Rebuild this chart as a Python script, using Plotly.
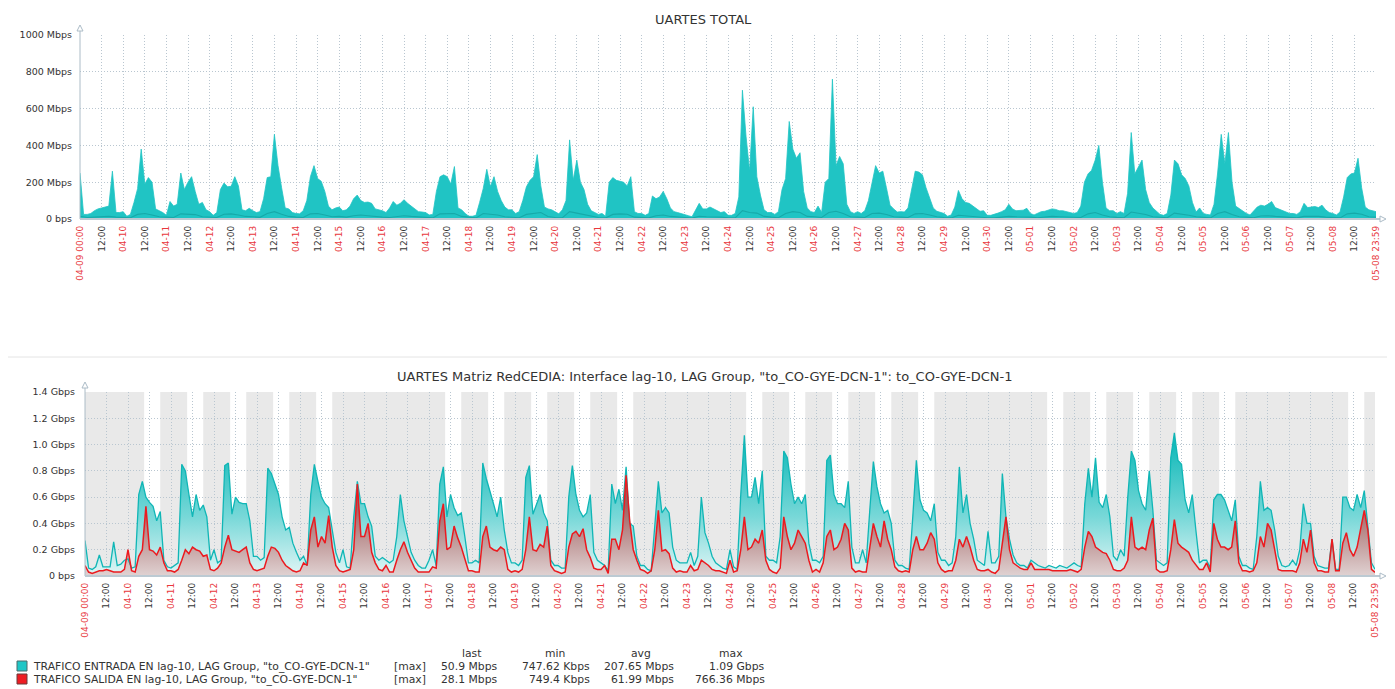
import pandas as pd
import plotly.graph_objects as go

START = "2023-04-09 00:00"
END = "2023-05-08 23:59"

# ---------------- data (2-hour samples, one line per day) ----------------
# UARTES TOTAL (Mbps)
total_mbps = [
    250, 25, 25, 30, 45, 55, 60, 65, 70, 260, 35, 35,
    40, 15, 25, 90, 165, 380, 190, 225, 200, 55, 45, 35,
    20, 95, 70, 80, 250, 160, 200, 230, 150, 80, 90, 50,
    40, 20, 35, 160, 195, 175, 178, 230, 180, 50, 45, 58,
    45, 35, 40, 110, 225, 230, 460, 290, 170, 60, 55, 35,
    30, 28, 45, 100, 230, 290, 220, 205, 150, 70, 50, 60,
    65, 45, 50, 70, 110, 130, 100, 90, 92, 85, 55, 50,
    45, 35, 60, 95, 75, 85, 105, 85, 70, 50, 40, 38,
    35, 22, 25, 150, 230, 240, 230, 190, 285, 60, 50, 30,
    15, 15, 20, 90, 165, 270, 175, 230, 150, 100, 65, 50,
    50, 30, 40, 100, 175, 210, 230, 350, 180, 65, 55, 50,
    40, 28, 50, 100, 430, 210, 320, 200, 160, 80, 45, 35,
    25, 30, 15, 200, 225, 210, 205, 200, 180, 230, 40, 30,
    30, 20, 30, 125, 110, 120, 150, 110, 60, 40, 35, 28,
    25, 18, 12, 45, 85, 55, 55, 65, 55, 45, 35, 40,
    20, 20, 30, 120, 700, 450, 260, 610, 230, 130, 50, 35,
    35, 25, 40, 160, 220, 530, 380, 330, 360, 150, 60, 40,
    35, 70, 35, 200, 220, 760, 290, 340, 300, 80, 40, 30,
    40, 30, 45, 100, 200, 290, 250, 260, 170, 75, 55, 38,
    40, 38, 60, 170, 260, 255, 240, 170, 120, 60, 42, 35,
    30, 15, 22, 65, 155, 110, 90, 85, 72, 55, 42, 45,
    20, 20, 25, 32, 40, 50, 80, 55, 45, 45, 48, 58,
    30, 22, 32, 40, 42, 48, 55, 52, 45, 45, 40, 35,
    30, 35, 70, 200, 245, 265, 320, 400, 200, 60, 45, 45,
    30, 40, 30, 140, 470, 245, 280, 320, 160, 90, 60, 40,
    25, 20, 30, 130, 320, 300, 240, 220, 180, 90, 38, 60,
    30, 25, 22, 80, 250, 460, 300, 470, 200, 70, 55, 40,
    30, 22, 45, 65, 75, 70, 80, 95, 62, 55, 48, 38,
    30, 30, 25, 40, 85, 62, 65, 68, 62, 75, 50, 35,
    30, 22, 38, 120, 225, 245, 250, 330, 170, 65, 50, 45,
    40,
]

# UARTES TOTAL, lower (darker) series, 4-hour samples (Mbps)
total_low_mbps = [
    15, 8, 10, 12, 14, 10,
    9, 7, 25, 30, 22, 12,
    10, 8, 28, 25, 24, 12,
    10, 8, 26, 28, 22, 14,
    12, 9, 30, 40, 26, 14,
    10, 8, 28, 30, 22, 12,
    14, 10, 18, 22, 18, 12,
    10, 8, 15, 18, 14, 10,
    8, 6, 28, 30, 30, 14,
    8, 6, 30, 28, 22, 12,
    10, 7, 25, 30, 35, 14,
    8, 7, 40, 32, 24, 12,
    8, 6, 25, 28, 26, 10,
    8, 6, 18, 22, 14, 9,
    8, 5, 15, 12, 12, 10,
    7, 6, 45, 35, 32, 14,
    10, 7, 30, 40, 35, 14,
    12, 8, 35, 42, 30, 12,
    10, 8, 30, 32, 24, 12,
    10, 8, 28, 30, 22, 12,
    8, 6, 20, 16, 14, 10,
    7, 6, 10, 14, 12, 12,
    10, 7, 12, 14, 12, 10,
    9, 8, 28, 35, 22, 12,
    9, 7, 38, 32, 24, 12,
    8, 7, 32, 28, 20, 12,
    8, 6, 30, 40, 24, 12,
    10, 7, 16, 18, 14, 10,
    8, 6, 14, 16, 14, 10,
    8, 6, 28, 32, 26, 12,
    10,
]

# TRAFICO ENTRADA (Gbps)
in_gbps = [
    0.27, 0.06, 0.05, 0.07, 0.16, 0.07, 0.07, 0.07, 0.26, 0.08, 0.09, 0.12,
    0.13, 0.06, 0.07, 0.62, 0.72, 0.60, 0.56, 0.53, 0.42, 0.49, 0.12, 0.07,
    0.06, 0.08, 0.10, 0.85, 0.80, 0.62, 0.45, 0.62, 0.50, 0.54, 0.45, 0.12,
    0.20, 0.10, 0.12, 0.84, 0.86, 0.47, 0.60, 0.56, 0.55, 0.55, 0.42, 0.15,
    0.15, 0.12, 0.14, 0.82, 0.78, 0.70, 0.62, 0.45, 0.35, 0.37, 0.25, 0.18,
    0.12, 0.15, 0.08, 0.62, 0.85, 0.72, 0.60, 0.55, 0.52, 0.35, 0.18, 0.10,
    0.20, 0.07, 0.06, 0.45, 0.72, 0.55, 0.55, 0.45, 0.38, 0.15, 0.12, 0.14,
    0.12, 0.10, 0.12, 0.30, 0.62, 0.42, 0.30, 0.18, 0.12, 0.08, 0.06, 0.06,
    0.12, 0.20, 0.08, 0.70, 0.83, 0.45, 0.62, 0.52, 0.46, 0.48, 0.30, 0.10,
    0.10, 0.12, 0.10, 0.86, 0.74, 0.65, 0.55, 0.45, 0.60, 0.35, 0.18, 0.10,
    0.10, 0.08, 0.12, 0.75, 0.84, 0.47, 0.55, 0.62, 0.48, 0.42, 0.12, 0.08,
    0.08, 0.06, 0.06, 0.60, 0.84, 0.62, 0.50, 0.45, 0.48, 0.62, 0.18, 0.12,
    0.10, 0.08, 0.04, 0.70, 0.55, 0.66, 0.50, 0.83, 0.40, 0.38, 0.15, 0.08,
    0.08, 0.05, 0.04, 0.35, 0.72, 0.48, 0.52, 0.48, 0.22, 0.12, 0.10, 0.10,
    0.10, 0.18, 0.08, 0.15, 0.60, 0.33, 0.25, 0.15, 0.10, 0.08, 0.06, 0.05,
    0.20, 0.07, 0.05, 0.62, 1.07, 0.60, 0.60, 0.75, 0.55, 0.80, 0.15, 0.12,
    0.12, 0.10, 0.30, 0.95, 0.90, 0.70, 0.55, 0.60, 0.55, 0.62, 0.25, 0.12,
    0.12, 0.10, 0.15, 0.88, 0.92, 0.62, 0.55, 0.55, 0.52, 0.72, 0.22, 0.10,
    0.10, 0.20, 0.10, 0.50, 0.87, 0.68, 0.55, 0.48, 0.50, 0.40, 0.12, 0.08,
    0.08, 0.06, 0.05, 0.45, 0.88, 0.58, 0.50, 0.48, 0.42, 0.55, 0.18, 0.12,
    0.12, 0.08, 0.10, 0.30, 0.83, 0.48, 0.62, 0.40, 0.28, 0.12, 0.10, 0.08,
    0.34, 0.10, 0.10, 0.15, 0.78, 0.45, 0.28, 0.16, 0.10, 0.08, 0.08, 0.06,
    0.12, 0.10, 0.08, 0.07, 0.06, 0.08, 0.07, 0.06, 0.08, 0.07, 0.06, 0.08,
    0.10, 0.08, 0.07, 0.55, 0.82, 0.60, 0.90, 0.56, 0.52, 0.62, 0.45, 0.15,
    0.12, 0.20, 0.15, 0.60, 0.95, 0.88, 0.65, 0.55, 0.50, 0.80, 0.50, 0.12,
    0.10, 0.08, 0.10, 0.90, 1.09, 0.88, 0.85, 0.58, 0.48, 0.62, 0.35, 0.10,
    0.12, 0.12, 0.06, 0.58, 0.62, 0.62, 0.58, 0.50, 0.42, 0.58, 0.15, 0.08,
    0.08, 0.06, 0.05, 0.30, 0.72, 0.50, 0.52, 0.50, 0.35, 0.15, 0.08, 0.07,
    0.08, 0.12, 0.08, 0.20, 0.55, 0.40, 0.40, 0.15, 0.08, 0.07, 0.06, 0.06,
    0.28, 0.05, 0.05, 0.60, 0.60, 0.52, 0.50, 0.62, 0.52, 0.65, 0.40, 0.10,
    0.051,
]

# TRAFICO SALIDA (Gbps)
out_gbps = [
    0.08, 0.03, 0.02, 0.03, 0.04, 0.04, 0.05, 0.04, 0.03, 0.03, 0.03, 0.05,
    0.20, 0.04, 0.03, 0.15, 0.20, 0.53, 0.20, 0.19, 0.16, 0.22, 0.10, 0.04,
    0.04, 0.03, 0.05, 0.12, 0.20, 0.17, 0.22, 0.20, 0.19, 0.15, 0.16, 0.05,
    0.04, 0.06, 0.10, 0.22, 0.31, 0.20, 0.19, 0.18, 0.20, 0.22, 0.10, 0.05,
    0.04, 0.05, 0.06, 0.15, 0.22, 0.21, 0.18, 0.12, 0.08, 0.06, 0.04, 0.03,
    0.04, 0.10, 0.08, 0.35, 0.45, 0.22, 0.30, 0.25, 0.46, 0.22, 0.08, 0.04,
    0.03, 0.04, 0.05, 0.20, 0.70, 0.30, 0.30, 0.40, 0.18, 0.10, 0.05, 0.04,
    0.08, 0.03, 0.03, 0.12, 0.20, 0.26, 0.18, 0.12, 0.06, 0.03, 0.03, 0.03,
    0.03, 0.07, 0.06, 0.42, 0.55, 0.20, 0.22, 0.38, 0.29, 0.22, 0.12, 0.04,
    0.04, 0.03, 0.03, 0.30, 0.38, 0.22, 0.20, 0.19, 0.22, 0.20, 0.05, 0.03,
    0.04, 0.03, 0.05, 0.20, 0.45, 0.20, 0.19, 0.24, 0.22, 0.38, 0.08, 0.04,
    0.03, 0.02, 0.03, 0.22, 0.32, 0.34, 0.30, 0.36, 0.20, 0.14, 0.06, 0.05,
    0.05, 0.08, 0.02, 0.28, 0.28, 0.20, 0.35, 0.766, 0.42, 0.20, 0.12, 0.05,
    0.04, 0.02, 0.04, 0.20, 0.50, 0.19, 0.20, 0.17, 0.06, 0.03, 0.04, 0.03,
    0.03, 0.08, 0.04, 0.05, 0.12, 0.10, 0.08, 0.05, 0.04, 0.04, 0.03, 0.02,
    0.12, 0.03, 0.04, 0.20, 0.45, 0.20, 0.22, 0.28, 0.25, 0.35, 0.12, 0.05,
    0.03, 0.02, 0.06, 0.45, 0.30, 0.20, 0.25, 0.35, 0.30, 0.25, 0.12, 0.03,
    0.05, 0.03, 0.10, 0.30, 0.35, 0.20, 0.22, 0.28, 0.40, 0.35, 0.06, 0.03,
    0.04, 0.03, 0.03, 0.20, 0.40, 0.30, 0.22, 0.42, 0.28, 0.20, 0.07, 0.04,
    0.03, 0.04, 0.03, 0.20, 0.30, 0.20, 0.20, 0.25, 0.33, 0.28, 0.10, 0.05,
    0.03, 0.04, 0.04, 0.12, 0.28, 0.22, 0.30, 0.22, 0.12, 0.05, 0.04, 0.04,
    0.05, 0.03, 0.02, 0.05, 0.25, 0.45, 0.20, 0.10, 0.08, 0.06, 0.05, 0.05,
    0.10, 0.05, 0.05, 0.05, 0.05, 0.05, 0.04, 0.04, 0.04, 0.04, 0.04, 0.05,
    0.04, 0.03, 0.05, 0.22, 0.34, 0.30, 0.22, 0.20, 0.18, 0.17, 0.12, 0.05,
    0.04, 0.04, 0.06, 0.12, 0.45, 0.22, 0.20, 0.22, 0.20, 0.35, 0.44, 0.05,
    0.03, 0.03, 0.04, 0.20, 0.43, 0.25, 0.22, 0.20, 0.18, 0.12, 0.08, 0.05,
    0.05, 0.10, 0.03, 0.40, 0.28, 0.22, 0.22, 0.20, 0.22, 0.42, 0.10, 0.04,
    0.04, 0.03, 0.04, 0.10, 0.30, 0.22, 0.40, 0.35, 0.20, 0.05, 0.04, 0.04,
    0.04, 0.04, 0.03, 0.10, 0.28, 0.18, 0.35, 0.10, 0.04, 0.04, 0.03, 0.03,
    0.28, 0.04, 0.04, 0.25, 0.33, 0.20, 0.15, 0.22, 0.36, 0.50, 0.35, 0.05,
    0.028,
]

legend_names = [
    'TRAFICO ENTRADA EN lag-10, LAG Group, "to_CO-GYE-DCN-1"',
    'TRAFICO SALIDA EN lag-10, LAG Group, "to_CO-GYE-DCN-1"',
]
legend_headers = ["last", "min", "avg", "max"]
legend_values = [
    ["50.9 Mbps", "747.62 Kbps", "207.65 Mbps", "1.09 Gbps"],
    ["28.1 Mbps", "749.4 Kbps", "61.99 Mbps", "766.36 Mbps"],
]
top_yticks = [0, 200, 400, 600, 800, 1000]
top_ylabels = ["0 bps", "200 Mbps", "400 Mbps", "600 Mbps", "800 Mbps", "1000 Mbps"]
bot_yticks = [0, 0.2, 0.4, 0.6, 0.8, 1.0, 1.2, 1.4]
bot_ylabels = ["0 bps", "0.2 Gbps", "0.4 Gbps", "0.6 Gbps", "0.8 Gbps",
               "1.0 Gbps", "1.2 Gbps", "1.4 Gbps"]
title_top = "UARTES TOTAL"
title_bot = 'UARTES Matriz RedCEDIA: Interface lag-10, LAG Group, "to_CO-GYE-DCN-1": to_CO-GYE-DCN-1'
work_hours = (9, 18)  # working time shown white, Mon-Fri

# ---------------- styles ----------------
FONT = "DejaVu Sans"
RED_TXT = "#e8383d"
DARK_TXT = "#333333"
GRID = "#b9c6d0"
AXIS = "#acbcc7"
TEAL_TOP = "#20c4c4"
TEAL_LOW = "#16a9a9"
TEAL_LINE = "#10b6b6"
RED_LINE = "#ec1a1f"
BAND = "#e9e9e9"
GRID_DASH = "1px,2px"

W, H = 1379, 681
OFF = 8  # body margin of the html page


def fx(x):
    return (x - OFF) / W


def fy(y):
    return 1 - (y - OFF) / H


t_end = pd.Timestamp(END)
times_2h = list(pd.date_range(START, periods=360, freq="2h")) + [t_end]
times_4h = list(pd.date_range(START, periods=180, freq="4h")) + [t_end]

tick_times = list(pd.date_range(START, periods=60, freq="12h")) + [t_end]
tick_text = []
for i, t in enumerate(tick_times):
    if i == 0 or i == len(tick_times) - 1:
        tick_text.append(f'<span style="color:{RED_TXT}">{t.strftime("%m-%d %H:%M")}</span>')
    elif t.hour == 0:
        tick_text.append(f'<span style="color:{RED_TXT}">{t.strftime("%m-%d")}</span>')
    else:
        tick_text.append(f'<span style="color:{DARK_TXT}">{t.strftime("%H:%M")}</span>')

fig = go.Figure()

# top chart
fig.add_trace(go.Scatter(x=times_2h, y=total_mbps, mode="lines", fill="tozeroy",
                         fillcolor=TEAL_TOP, line=dict(color=TEAL_TOP, width=0.8),
                         xaxis="x", yaxis="y", showlegend=False, hoverinfo="skip"))
fig.add_trace(go.Scatter(x=times_4h, y=total_low_mbps, mode="lines",
                         line=dict(color=TEAL_LOW, width=1.1),
                         xaxis="x", yaxis="y", showlegend=False, hoverinfo="skip"))

# bottom chart fills
fig.add_trace(go.Scatter(x=times_2h, y=in_gbps, mode="none", fill="tozeroy",
                         fillgradient=dict(type="vertical", start=0, stop=1.0,
                                           colorscale=[[0, "rgb(226,246,246)"],
                                                       [0.45, "rgb(120,216,216)"],
                                                       [1, "rgb(20,186,186)"]]),
                         xaxis="x2", yaxis="y2", showlegend=False, hoverinfo="skip"))
fig.add_trace(go.Scatter(x=times_2h, y=out_gbps, mode="none", fill="tozeroy",
                         fillgradient=dict(type="vertical", start=0, stop=0.55,
                                           colorscale=[[0, "rgb(224,210,210)"],
                                                       [1, "rgb(158,92,92)"]]),
                         xaxis="x2", yaxis="y2", showlegend=False, hoverinfo="skip"))
fig.add_trace(go.Scatter(x=times_2h, y=in_gbps, mode="lines",
                         line=dict(color=TEAL_LINE, width=1.3),
                         xaxis="x2", yaxis="y2", showlegend=False, hoverinfo="skip"))
fig.add_trace(go.Scatter(x=times_2h, y=out_gbps, mode="lines",
                         line=dict(color=RED_LINE, width=1.5),
                         xaxis="x2", yaxis="y2", showlegend=False, hoverinfo="skip"))

xcommon = dict(type="date", range=[pd.Timestamp(START), t_end], tickmode="array",
               tickvals=tick_times, ticktext=tick_text, tickangle=-90,
               tickfont=dict(family=FONT, size=9, color=DARK_TXT),
               showgrid=True, gridcolor=GRID, griddash=GRID_DASH, gridwidth=1,
               showline=False, zeroline=False, ticks="", automargin=False,
               ticklabelstandoff=4, fixedrange=True)
ycommon = dict(tickmode="array", tickfont=dict(family=FONT, size=9.5, color=DARK_TXT),
               showgrid=True, gridcolor=GRID, griddash=GRID_DASH, gridwidth=1,
               showline=False, zeroline=False, ticks="", automargin=False,
               fixedrange=True)

fig.update_layout(
    width=W, height=H, margin=dict(l=0, r=0, t=0, b=0),
    paper_bgcolor="white", plot_bgcolor="white", template="none",
    showlegend=False,
    xaxis=dict(domain=[fx(80), fx(1376)], anchor="y", **xcommon),
    yaxis=dict(domain=[fy(219), fy(35)], range=[0, 1000], anchor="x",
               tickvals=top_yticks, ticktext=top_ylabels, ticklabelstandoff=7, **ycommon),
    xaxis2=dict(domain=[fx(85), fx(1375)], anchor="y2", **xcommon),
    yaxis2=dict(domain=[fy(576), fy(392)], range=[0, 1.4], anchor="x2",
                tickvals=bot_yticks, ticktext=bot_ylabels, ticklabelstandoff=9, **ycommon),
)

shapes = []
# non-working time bands on the lower chart
cursor = pd.Timestamp(START)
for d in pd.date_range(START, periods=30, freq="D"):
    if d.weekday() < 5:
        ws = d + pd.Timedelta(hours=work_hours[0])
        we = d + pd.Timedelta(hours=work_hours[1])
        shapes.append(dict(type="rect", xref="x2", yref="y2 domain", x0=cursor, x1=ws,
                           y0=0, y1=1, fillcolor=BAND, line=dict(width=0), layer="below"))
        cursor = we
shapes.append(dict(type="rect", xref="x2", yref="y2 domain", x0=cursor, x1=t_end,
                   y0=0, y1=1, fillcolor=BAND, line=dict(width=0), layer="below"))


def pline(x0, y0, x1, y1, color, width):
    return dict(type="line", xref="paper", yref="paper", x0=fx(x0), y0=fy(y0),
                x1=fx(x1), y1=fy(y1), line=dict(color=color, width=width), layer="above")


def tri(points, color):
    path = "M " + " L ".join(f"{fx(a)},{fy(b)}" for a, b in points) + " Z"
    return dict(type="path", xref="paper", yref="paper", path=path,
                fillcolor="white", line=dict(color=color, width=1), layer="above")


# axes with arrows
for (yx, ytop, ybot, xend) in [(80, 31, 219, 1380), (85, 388, 576, 1380)]:
    shapes.append(pline(yx, ytop, yx, ybot, AXIS, 1))
    shapes.append(pline(yx, ybot, xend, ybot, "#bccad3", 2))
    shapes.append(tri([(yx, ytop - 6), (yx - 3, ytop), (yx + 3, ytop)], AXIS))
    shapes.append(tri([(xend + 6, ybot), (xend, ybot - 3), (xend, ybot + 3)], AXIS))

# separator between the two graphs
shapes.append(pline(8, 357, 1387, 357, "#e4e4e4", 1))

# legend swatches
shapes.append(dict(type="rect", xref="paper", yref="paper", x0=fx(17), x1=fx(27),
                   y0=fy(671), y1=fy(661), fillcolor="#1fc6c6",
                   line=dict(color="#4d6b6b", width=1)))
shapes.append(dict(type="rect", xref="paper", yref="paper", x0=fx(17), x1=fx(27),
                   y0=fy(684), y1=fy(674), fillcolor="#ee1c22",
                   line=dict(color="#6b3a3a", width=1)))
fig.update_layout(shapes=shapes)

ann = []


def text(x, y, s, size, anchor="left", color=DARK_TXT):
    ann.append(dict(x=fx(x), y=fy(y), xref="paper", yref="paper", text=s,
                    showarrow=False, xanchor=anchor, yanchor="middle",
                    font=dict(family=FONT, size=size, color=color)))


text(703, 19, title_top, 13, "center")
text(705, 376, title_bot, 13, "center")

header_x = [471, 555, 641, 731]
value_right = [499, 592, 676, 767]
for hx, h in zip(header_x, legend_headers):
    text(hx, 653, h, 10.8, "center")
for row, (name, vals) in enumerate(zip(legend_names, legend_values)):
    yy = 666 + 13 * row
    text(31, yy, name, 10.8, "left")
    text(392, yy, "[max]", 10.8, "left")
    for vx, v in zip(value_right, vals):
        text(vx, yy, v, 10.8, "right")

fig.update_layout(annotations=ann)

fig.write_html("out.html")
